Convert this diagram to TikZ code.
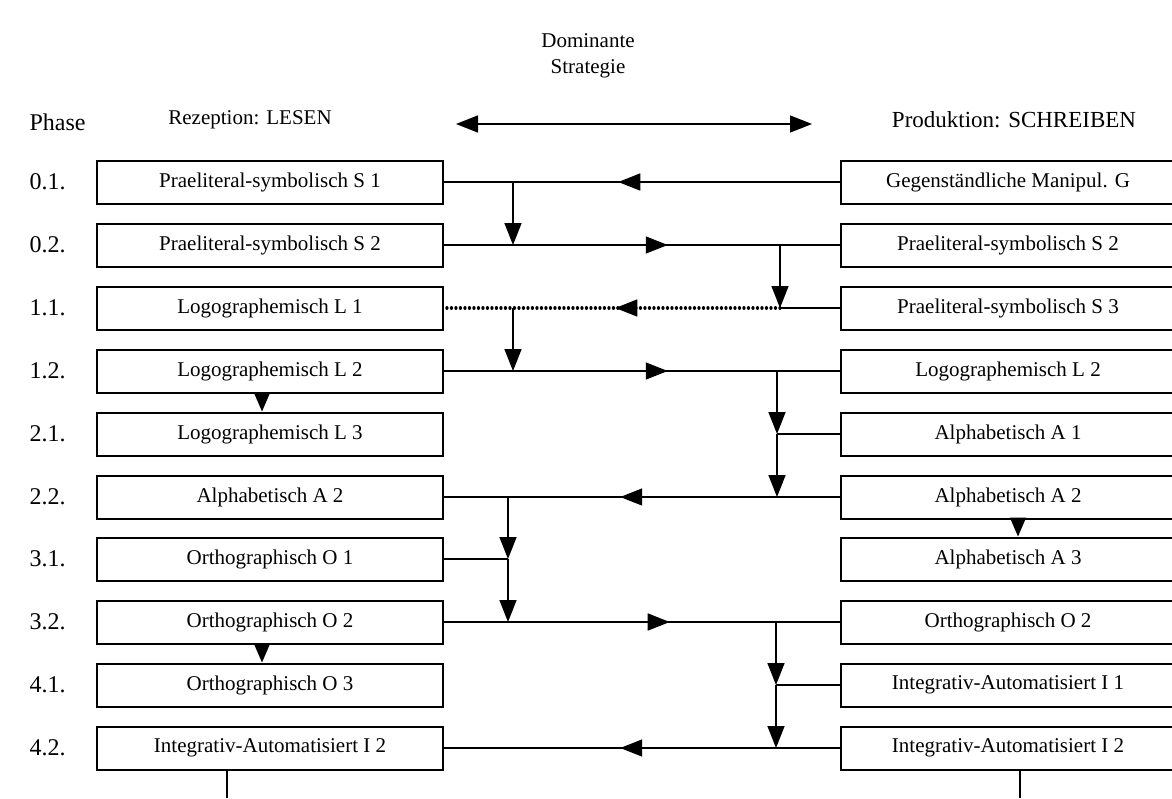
\documentclass[tikz,border=0pt]{standalone}
\usepackage{fontspec}
\setmainfont{Liberation Serif}
\usetikzlibrary{arrows.meta,decorations.markings}
\tikzset{
  x=1pt,y=-1pt,
  conn/.style={line width=1.6pt},
  tri/.tip={Triangle[length=22pt,width=17pt]},
  smalltri/.tip={Triangle[length=19pt,width=16pt]},
  lbox/.style={draw,line width=2pt,minimum width=346pt,minimum height=43pt,inner sep=0pt,font=\fontsize{21}{24}\selectfont},
  rbox/.style={draw,line width=2pt,minimum width=334pt,minimum height=43pt,inner sep=0pt,font=\fontsize{21}{24}\selectfont},
  phase/.style={anchor=west,font=\fontsize{24}{28}\selectfont},
  head/.style={font=\fontsize{21}{26}\selectfont},
  arrowat/.style={postaction={decorate},decoration={markings,mark=at position #1 with {\arrow{tri}}}},
  down/.style={conn,-{tri}},
  dotline/.style={line width=3.2pt,line cap=round,dash pattern=on 0.1pt off 4.4pt}
}
\begin{document}
\begin{tikzpicture}
\useasboundingbox (0,0) rectangle (1172,798);
% header
\node[head,align=center] (dom) at (588,56) {Dominante\\Strategie};
\node[phase] (ph) at (26,122) {Phase};
\node[head] (rez) at (250,120) {Rezeption: LESEN};
\node[head,font=\fontsize{23}{26}\selectfont] (prod) at (1014,120) {Produktion: SCHREIBEN};
\coordinate (da) at (456,124);
\coordinate (db) at (812,124);
\draw[conn,{tri}-{tri}] (da) -- (db);
% phase labels
\foreach \t/\y [count=\i] in {0.1./182,0.2./245,1.1./308,1.2./371,2.1./434,2.2./497,3.1./559,3.2./622,4.1./685,4.2./748}
  \node[phase] (p\i) at (26,\y) {\t};
% left boxes
\node[lbox] (L1) at (270,182) {Praeliteral-symbolisch S 1};
\node[lbox] (L2) at (270,245) {Praeliteral-symbolisch S 2};
\node[lbox] (L3) at (270,308) {Logographemisch L 1};
\node[lbox] (L4) at (270,371) {Logographemisch L 2};
\node[lbox] (L5) at (270,434) {Logographemisch L 3};
\node[lbox] (L6) at (270,497) {Alphabetisch A 2};
\node[lbox] (L7) at (270,559) {Orthographisch O 1};
\node[lbox] (L8) at (270,622) {Orthographisch O 2};
\node[lbox] (L9) at (270,685) {Orthographisch O 3};
\node[lbox] (L10) at (270,748) {Integrativ-Automatisiert I 2};
% right boxes
\node[rbox] (R1) at (1008,182) {Gegenständliche Manipul. G};
\node[rbox] (R2) at (1008,245) {Praeliteral-symbolisch S 2};
\node[rbox] (R3) at (1008,308) {Praeliteral-symbolisch S 3};
\node[rbox] (R4) at (1008,371) {Logographemisch L 2};
\node[rbox] (R5) at (1008,434) {Alphabetisch A 1};
\node[rbox] (R6) at (1008,497) {Alphabetisch A 2};
\node[rbox] (R7) at (1008,559) {Alphabetisch A 3};
\node[rbox] (R8) at (1008,622) {Orthographisch O 2};
\node[rbox] (R9) at (1008,685) {Integrativ-Automatisiert I 1};
\node[rbox] (R10) at (1008,748) {Integrativ-Automatisiert I 2};
% junction coordinates
\coordinate (j1) at (513,182);
\coordinate (j2) at (513,245);
\coordinate (j3) at (780,245);
\coordinate (j4) at (780,308);
\coordinate (j5) at (513,308);
\coordinate (j6) at (513,371);
\coordinate (j7) at (777,371);
\coordinate (j8) at (777,434);
\coordinate (j9) at (777,497);
\coordinate (j10) at (508,497);
\coordinate (j11) at (508,559);
\coordinate (j12) at (508,622);
\coordinate (j13) at (776,622);
\coordinate (j14) at (776,685);
\coordinate (j15) at (776,748);
% horizontal connectors
\draw[conn,arrowat=0.56] (R1.west) -- (L1.east);
\draw[conn,arrowat=0.565] (L2.east) -- (R2.west);
\draw[conn] (R3.west) -- (j4);
\draw[dotline] (j4) -- (L3.east);
\draw[conn,draw=none,arrowat=0.49] (j4) -- (L3.east);
\draw[conn,arrowat=0.565] (L4.east) -- (R4.west);
\draw[conn] (R5.west) -- (j8);
\draw[conn,arrowat=0.555] (R6.west) -- (L6.east);
\draw[conn] (L7.east) -- (j11);
\draw[conn,arrowat=0.57] (L8.east) -- (R8.west);
\draw[conn] (R9.west) -- (j14);
\draw[conn,arrowat=0.555] (R10.west) -- (L10.east);
% vertical connectors
\draw[down] (j1) -- (j2);
\draw[down] (j3) -- (j4);
\draw[down] (j5) -- (j6);
\draw[down] (j7) -- (j8);
\draw[down] (j8) -- (j9);
\draw[down] (j10) -- (j11);
\draw[down] (j11) -- (j12);
\draw[down] (j13) -- (j14);
\draw[down] (j14) -- (j15);
% stacked box arrows
\coordinate (xl) at (262,0);
\coordinate (xr) at (1018,0);
\draw[conn,-{smalltri}] (L4.south -| xl) -- (L5.north -| xl);
\draw[conn,-{smalltri}] (L8.south -| xl) -- (L9.north -| xl);
\draw[conn,-{smalltri}] (R6.south -| xr) -- (R7.north -| xr);
% bottom lines
\coordinate (bl) at (227,798);
\coordinate (br) at (1020,798);
\draw[conn] (L10.south -| bl) -- (bl);
\draw[conn] (R10.south -| br) -- (br);
\end{tikzpicture}
\end{document}
